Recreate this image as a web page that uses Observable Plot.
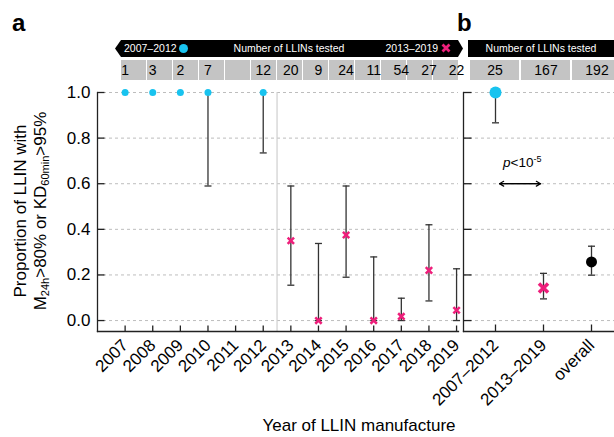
<!DOCTYPE html>
<html><head><meta charset="utf-8">
<script src="https://cdn.jsdelivr.net/npm/d3@7"></script>
<script src="https://cdn.jsdelivr.net/npm/@observablehq/plot@0.6"></script>
<style>
body{margin:0;background:#fff;font-family:"Liberation Sans",Arial,Helvetica,sans-serif;color:#000;}
#wrap{position:relative;width:614px;height:437px;overflow:hidden;background:#fff;}
#wrap > *{position:absolute;}
.banner{background:#000;color:#fff;font-size:10.5px;height:17px;line-height:17px;white-space:nowrap;}
.banner span{position:absolute;top:0;}
.dotc{display:inline-block;width:9px;height:9px;border-radius:50%;background:#18c3ef;vertical-align:-1px;margin-left:2px;}
</style></head><body><div id="wrap"></div>
<script>
// ---------- data ----------
const years    = [2007,2008,2009,2010,2011,2012,2013,2014,2015,2016,2017,2018,2019];
const nTested  = [1,3,2,7,null,12,20,9,24,11,54,27,22];
const propA    = [1,1,1,1,null,1,0.35,0,0.375,0,0.018,0.22,0.045];
const lowA     = [null,null,null,0.59,null,0.735,0.155,0,0.19,0,0,0.086,0];
const highA    = [null,null,null,1,null,1,0.59,0.338,0.59,0.279,0.098,0.42,0.227];
const groups   = ["2007–2012","2013–2019","overall"];
const nGroup   = [25,167,192];
const propB    = [1,0.143,0.257];
const lowB     = [0.867,0.095,0.199];
const highB    = [1,0.207,0.326];
const yTicks   = [0,0.2,0.4,0.6,0.8,1.0];
const pAnnot   = 0.6;

// ---------- styling ----------
const CYAN = "#18c3ef", PINK = "#ee1f7b", BAR = "#333", AX = "#222";
const FONT = '"Liberation Sans",Arial,Helvetica,sans-serif';
const yBottom = -0.048;
const hline = {draw(ctx,size){const r=Math.sqrt(size/Math.PI);ctx.moveTo(-r,0);ctx.lineTo(r,0);}};
const vline = {draw(ctx,size){const r=Math.sqrt(size/Math.PI);ctx.moveTo(0,-r);ctx.lineTo(0,r);}};
const wrap = document.getElementById("wrap");
function place(el, left, top){el.style.left=left+"px";el.style.top=top+"px";wrap.appendChild(el);return el;}
function html(s, left, top, css=""){const d=document.createElement("div");d.innerHTML=s;d.style.cssText=css;return place(d,left,top);}

const A = years.map((y,i)=>({year:y, n:nTested[i], p:propA[i], lo:lowA[i], hi:highA[i]}));
const B = groups.map((g,i)=>({g, n:nGroup[i], p:propB[i], lo:lowB[i], hi:highB[i]}));

// header a: count boxes
const headA = Plot.plot({
  width: 470, height: 85, marginLeft: 0, marginRight: 0, marginTop: 0, marginBottom: 0, axis: null,
  style: {background:"transparent", fontFamily: FONT},
  x: {type:"band", domain: years, range:[115, 463], paddingInner:0.05, paddingOuter:0},
  y: {type:"band", domain:["n"], range:[60, 80], paddingInner:0, paddingOuter:0},
  marks: [ Plot.cell(years, {x:d=>d, y:()=>"n", fill:"#c4c4c4"}) ]
});
place(headA, 0, 0);

// ---------- panel a ----------
const plotA = Plot.plot({
  width: 462, height: 437, marginLeft: 97, marginRight: 4, marginTop: 92, marginBottom: 106,
  style: {background:"transparent", fontFamily: FONT, color:"#000", overflow:"visible"},
  x: {domain:[2006, 2019.07], axis: null},
  y: {domain:[yBottom, 1], axis: null},
  marks: [
    Plot.gridY(yTicks, {stroke:"#bdbdbd", strokeOpacity:1, strokeDasharray:"3,3"}),
    Plot.ruleX([2012.5], {y1: yBottom, y2: 1, stroke:"#cfcfcf", strokeWidth:1.2}),
    Plot.frame({anchor:"left", stroke:AX, strokeWidth:1.3}),
    Plot.frame({anchor:"bottom", stroke:AX, strokeWidth:1.3}),
    Plot.dot(yTicks, {y: d=>d, frameAnchor:"left", symbol:hline, r:3.5, dx:3.5, stroke:AX, strokeWidth:1.3}),
    Plot.dot(years, {x: d=>d, frameAnchor:"bottom", symbol:vline, r:3, dy:-3, stroke:AX, strokeWidth:1.3}),
    Plot.axisY(yTicks, {tickSize:0, tickPadding:7, tickFormat:d3.format(".1f"), fontSize:17, label:null}),
    Plot.axisX(years, {tickSize:0, tickPadding:11, tickRotate:-45, tickFormat:d=>String(d), fontSize:17, label:null}),
    Plot.ruleX(A.filter(d=>d.lo!=null), {x:"year", y1:"lo", y2:"hi", stroke:BAR, strokeWidth:1.3}),
    Plot.dot(A.filter(d=>d.lo!=null), {x:"year", y:"lo", symbol:hline, r:3.5, stroke:BAR, strokeWidth:1.3}),
    Plot.dot(A.filter(d=>d.hi!=null && d.hi<1), {x:"year", y:"hi", symbol:hline, r:3.5, stroke:BAR, strokeWidth:1.3}),
    Plot.dot(A.filter(d=>d.p!=null && d.year<=2012), {x:"year", y:"p", r:3.5, fill:CYAN}),
    Plot.dot(A.filter(d=>d.year>=2013), {x:"year", y:"p", symbol:"times", r:3, stroke:PINK, strokeWidth:2.5}),
    Plot.text(A, {x:"year", text:d=>d.n==null?"":String(d.n), frameAnchor:"top", lineAnchor:"middle", dy:-22, fontSize:14, fill:"#000"})
  ]
});
place(plotA, 0, 0);

// banner a
const bA = html(
  '<span style="left:9px">2007–2012<span class="dotc" style="position:static"></span></span>' +
  '<span style="left:0;width:100%;text-align:center;margin-left:0">Number of LLINs tested</span>' +
  '<span style="right:12px">2013–2019 <svg width="10" height="10" viewBox="0 0 10 10" style="vertical-align:-1px"><path d="M1.5,1.5L8.5,8.5M8.5,1.5L1.5,8.5" stroke="'+PINK+'" stroke-width="2.8" stroke-linecap="butt"/></svg></span>',
  115, 40, "width:348px;clip-path:polygon(0 50%,6px 0,calc(100% - 5px) 0,100% 50%,calc(100% - 5px) 100%,6px 100%);");
bA.className = "banner";

// ---------- panel b ----------
const headB = Plot.plot({
  width: 174, height: 85, marginLeft: 0, marginRight: 0, marginTop: 0, marginBottom: 0, axis: null,
  style: {background:"transparent", fontFamily: FONT},
  x: {type:"band", domain: groups, range:[29, 182], paddingInner:0.04, paddingOuter:0},
  y: {type:"band", domain:["n"], range:[60, 80], paddingInner:0, paddingOuter:0},
  marks: [
    Plot.cell(B, {x:"g", y:()=>"n", fill:"#c4c4c4"}),
    Plot.text(B, {x:"g", y:()=>"n", text:d=>String(d.n), fontSize:14, fill:"#000"})
  ]
});
place(headB, 440, 0);

const plotB = Plot.plot({
  width: 174, height: 437, marginLeft: 23, marginRight: 0, marginTop: 92, marginBottom: 106,
  style: {background:"transparent", fontFamily: FONT, color:"#000", overflow:"visible"},
  x: {type:"point", domain: groups, range:[54, 151], padding:0, axis:null},
  y: {domain:[yBottom, 1], axis:null},
  marks: [
    Plot.gridY(yTicks, {stroke:"#bdbdbd", strokeOpacity:1, strokeDasharray:"3,3"}),
    Plot.frame({anchor:"left", stroke:AX, strokeWidth:1.3}),
    Plot.frame({anchor:"bottom", stroke:AX, strokeWidth:1.3}),
    Plot.dot(yTicks, {y:d=>d, frameAnchor:"left", symbol:hline, r:4, dx:4, stroke:AX, strokeWidth:1.3}),
    Plot.dot(groups, {x:d=>d, frameAnchor:"bottom", symbol:vline, r:3.5, dy:-3.5, stroke:AX, strokeWidth:1.3}),
    Plot.axisX(groups, {tickSize:0, tickPadding:11, tickRotate:-45, fontSize:17, label:null}),
    Plot.ruleX(B, {x:"g", y1:"lo", y2:"hi", stroke:BAR, strokeWidth:1.3}),
    Plot.dot(B, {x:"g", y:"lo", symbol:hline, r:3.5, stroke:BAR, strokeWidth:1.3}),
    Plot.dot(B.filter(d=>d.hi<1), {x:"g", y:"hi", symbol:hline, r:3.5, stroke:BAR, strokeWidth:1.3}),
    Plot.arrow([0], {x1:()=>groups[0], x2:()=>groups[1], y1:()=>pAnnot, y2:()=>pAnnot, insetStart:4, insetEnd:3, headLength:6, stroke:"#000", strokeWidth:1.2}),
    Plot.arrow([0], {x1:()=>groups[1], x2:()=>groups[0], y1:()=>pAnnot, y2:()=>pAnnot, insetStart:3, insetEnd:4, headLength:6, stroke:"#000", strokeWidth:1.2}),
    Plot.dot(B.filter(d=>d.g===groups[0]), {x:"g", y:"p", r:6, fill:CYAN}),
    Plot.dot(B.filter(d=>d.g===groups[1]), {x:"g", y:"p", symbol:"times", r:4.2, stroke:PINK, strokeWidth:3.5}),
    Plot.dot(B.filter(d=>d.g===groups[2]), {x:"g", y:"p", r:5.5, fill:"#000"})
  ]
});
place(plotB, 440, 0);

const bB = html('<span style="left:0;width:100%;text-align:center">Number of LLINs tested</span>', 468, 40, "width:146px;");
bB.className = "banner";

// ---------- texts ----------
html("a", 12, 11, "font-weight:bold;font-size:24px;line-height:24px;");
html("b", 457, 11, "font-weight:bold;font-size:24px;line-height:24px;");
html('Proportion of LLIN with<br>M<sub style="font-size:11px;vertical-align:-3px;line-height:0">24h</sub>&gt;80% or KD<sub style="font-size:11px;vertical-align:-3px;line-height:0">60min</sub>&gt;95%',
  31, 211, "width:260px;text-align:center;font-size:17px;line-height:20px;transform:translate(-50%,-50%) rotate(-90deg);white-space:nowrap;");
html("Year of LLIN manufacture", 359, 417, "font-size:17px;line-height:17px;transform:translateX(-50%);white-space:nowrap;");
html('<i>p</i>&lt;10<sup style="font-size:9px;vertical-align:5px;line-height:0">-5</sup>', 503, 156, "font-size:13.5px;line-height:14px;white-space:nowrap;");
</script></body></html>
